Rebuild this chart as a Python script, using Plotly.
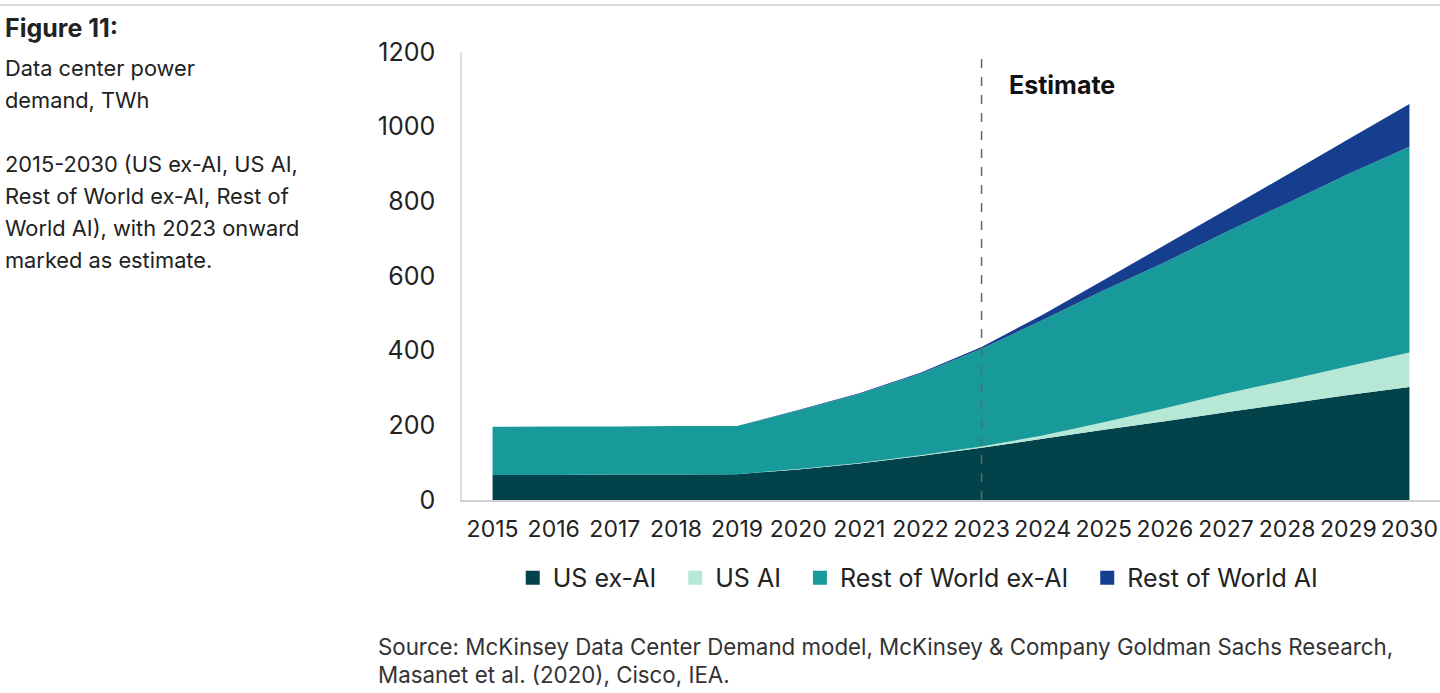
import plotly.graph_objects as go

years = list(range(2015, 2031))
us_ex_ai = [67, 67, 68, 68, 69, 82, 98, 118, 140, 164, 188, 211, 235, 258, 281, 303]
us_ai = [0, 0, 0, 0, 0, 1, 1, 2, 3, 9, 20, 35, 50, 63, 77, 92]
row_ex_ai = [129, 130, 129, 130, 129, 157, 185, 218, 262, 309, 354, 391, 433, 474, 515, 551]
row_ai = [0, 0, 0, 0, 0, 1, 2, 3, 5, 14, 27, 46, 59, 76, 93, 115]

series = [
    ("US ex-AI", us_ex_ai, "#02434B"),
    ("US AI", us_ai, "#B7E7D5"),
    ("Rest of World ex-AI", row_ex_ai, "#189A9A"),
    ("Rest of World AI", row_ai, "#153E8F"),
]

FONT = "Inter, Roboto, sans-serif"
PAD = "\u00a0\u00a0"

fig = go.Figure()
for name, vals, col in series:
    fig.add_trace(go.Scatter(x=years, y=vals, name=name, stackgroup="one",
                             mode="none", fillcolor=col, showlegend=False))
# square legend keys
for i, (name, vals, col) in enumerate(series):
    label = name + (PAD if i < len(series) - 1 else "")
    fig.add_trace(go.Scatter(x=[None], y=[None], name=label, mode="markers",
                             marker=dict(symbol="square", size=14, color=col)))

fig.add_shape(type="line", x0=2023, x1=2023, y0=0, y1=1200, xref="x", yref="y",
              line=dict(color="#666666", width=1.5, dash="dash"))
fig.add_shape(type="line", x0=-0.475, x1=1.0, y0=1.105, y1=1.105, xref="paper", yref="paper",
              line=dict(color="#cccccc", width=1.5))

fig.add_annotation(x=2023.42, y=1112, xref="x", yref="y", text="<b>Estimate</b>",
                   showarrow=False, xanchor="left", yanchor="middle",
                   font=dict(family=FONT, size=25, color="#111111"))

left_lines = [
    (28, "<b>Figure 11:</b>", 25),
    (68, "Data center power", 21.8),
    (100, "demand, TWh", 21.8),
    (164, "2015-2030 (US ex-AI, US AI,", 21.8),
    (196, "Rest of World ex-AI, Rest of", 21.8),
    (228, "World AI), with 2023 onward", 21.8),
    (260, "marked as estimate.", 21.8),
]
for py, txt, fs in left_lines:
    fig.add_annotation(x=(3 - 462) / 978, y=(500 - py) / 448, xref="paper", yref="paper",
                       text=txt, showarrow=False, xanchor="left", yanchor="middle",
                       font=dict(family=FONT, size=fs, color="#222222"))

src_lines = [
    (646, "Source: McKinsey Data Center Demand model, McKinsey & Company Goldman Sachs Research,"),
    (674, "Masanet et al. (2020), Cisco, IEA."),
]
for py, txt in src_lines:
    fig.add_annotation(x=(376 - 462) / 978, y=(500 - py) / 448, xref="paper", yref="paper",
                       text=txt, showarrow=False, xanchor="left", yanchor="middle",
                       font=dict(family=FONT, size=22.3, color="#333333"))

fig.update_layout(
    width=1440, height=693,
    margin=dict(l=462, r=0, t=52, b=193),
    paper_bgcolor="white", plot_bgcolor="white",
    font=dict(family=FONT, color="#222222"),
    legend=dict(orientation="h", x=0.466, xanchor="center", y=-0.174, yanchor="middle",
                font=dict(family=FONT, size=25, color="#222222"), itemwidth=30,
                traceorder="normal", tracegroupgap=0),
    xaxis=dict(range=[2014.5, 2030.5], tickmode="array", tickvals=years,
               ticktext=[str(y) for y in years], showgrid=False, zeroline=False,
               showline=True, linecolor="#d0d0d0", linewidth=1.5,
               ticks="outside", ticklen=8, tickcolor="rgba(0,0,0,0)",
               tickfont=dict(family=FONT, size=23, color="#222222")),
    yaxis=dict(range=[0, 1200], dtick=200, showgrid=False, zeroline=False,
               showline=True, linecolor="#e0e0e0", linewidth=1.5,
               ticks="outside", ticklen=20, tickcolor="rgba(0,0,0,0)",
               tickfont=dict(family=FONT, size=25, color="#222222")),
)

fig.write_html("out.html", config={"displayModeBar": False},
               post_script="document.body.style.margin='0';document.body.style.overflow='hidden';")
